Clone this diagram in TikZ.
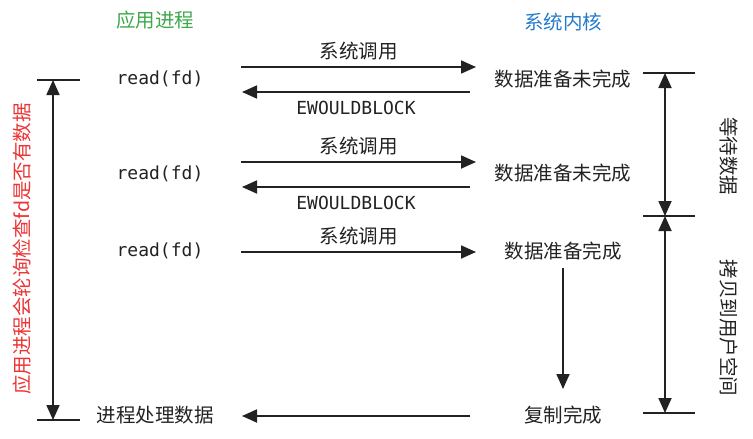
\documentclass[tikz,border=0pt]{standalone}
\usepackage{fontspec}
\setmonofont{DejaVu Sans Mono}
\newfontfamily\cjk{Noto Sans CJK SC}
\usetikzlibrary{arrows.meta,positioning}

\definecolor{appgreen}{RGB}{60,168,74}
\definecolor{kernblue}{RGB}{38,122,200}
\definecolor{pollred}{RGB}{236,52,52}
\definecolor{ink}{RGB}{34,34,34}

\begin{document}
\begin{tikzpicture}[x=1pt, y=-1pt, >={Triangle[length=15pt,width=13pt]},
  line width=1.8pt, draw=ink,
  every node/.style={inner sep=0pt, text=ink},
  cn/.style={font=\cjk\fontsize{19.5}{20}\selectfont},
  code/.style={font=\ttfamily\fontsize{18}{20}\selectfont}]
  \useasboundingbox (0,0) rectangle (753,439);

  % column titles
  \node[cn, text=appgreen] (app) at (155,20) {应用进程};
  \node[cn, text=kernblue] (kern) at (563,22) {系统内核};

  % application side
  \node[code] (r1) at (160,79) {read(fd)};
  \node[code] (r2) at (160,174) {read(fd)};
  \node[code] (r3) at (160,251) {read(fd)};
  \node[cn] (proc) at (155,415) {进程处理数据};

  % kernel side
  \node[cn] (k1) at (563,79) {数据准备未完成};
  \node[cn] (k2) at (563,173) {数据准备未完成};
  \node[cn] (k3) at (563,251) {数据准备完成};
  \node[cn] (k4) at (563,415) {复制完成};

  % call and return lines
  \coordinate (c1a) at (241,67);  \coordinate (c1b) at (476,67);
  \coordinate (e1a) at (470,92);  \coordinate (e1b) at (242,92);
  \coordinate (c2a) at (241,162); \coordinate (c2b) at (476,162);
  \coordinate (e2a) at (470,187); \coordinate (e2b) at (242,187);
  \coordinate (c3a) at (241,252); \coordinate (c3b) at (476,252);
  \coordinate (e3a) at (470,416); \coordinate (e3b) at (242,416);

  \path[->]
  (c1a) edge node[cn, above=6pt] {系统调用} (c1b)
  (e1a) edge node[code, below=8pt] {EWOULDBLOCK} (e1b)
  (c2a) edge node[cn, above=6pt] {系统调用} (c2b)
  (e2a) edge node[code, below=8pt] {EWOULDBLOCK} (e2b)
  (c3a) edge node[cn, above=6pt] {系统调用} (c3b)
  (e3a) edge (e3b);

  % copy step
  \coordinate (d1) at (563,268);
  \coordinate (d2) at (563,389);
  \draw[->] (d1) -- (d2);

  % left polling span
  \coordinate (lt) at (53,80);
  \coordinate (lb) at (53,420);
  \draw (37,80) -- (80,80);
  \draw (37,420) -- (80,420);
  \draw[<->] (lt) -- (lb);
  \node[cn, text=pollred, rotate=90] (poll) at (22,249) {应用进程会轮询检查fd是否有数据};

  % right waiting and copy spans
  \coordinate (rt) at (665,73);
  \coordinate (rm) at (665,216);
  \coordinate (rb) at (665,413);
  \draw (643,73) -- (695,73);
  \draw (643,216) -- (695,216);
  \draw (643,413) -- (695,413);
  \draw[<->] (rt) -- (rm);
  \draw[<->] (rm) -- (rb);
  \node[cn, rotate=-90] (wait) at (729,156) {等待数据};
  \node[cn, rotate=-90] (copy) at (729,328) {拷贝到用户空间};
\end{tikzpicture}
\end{document}
